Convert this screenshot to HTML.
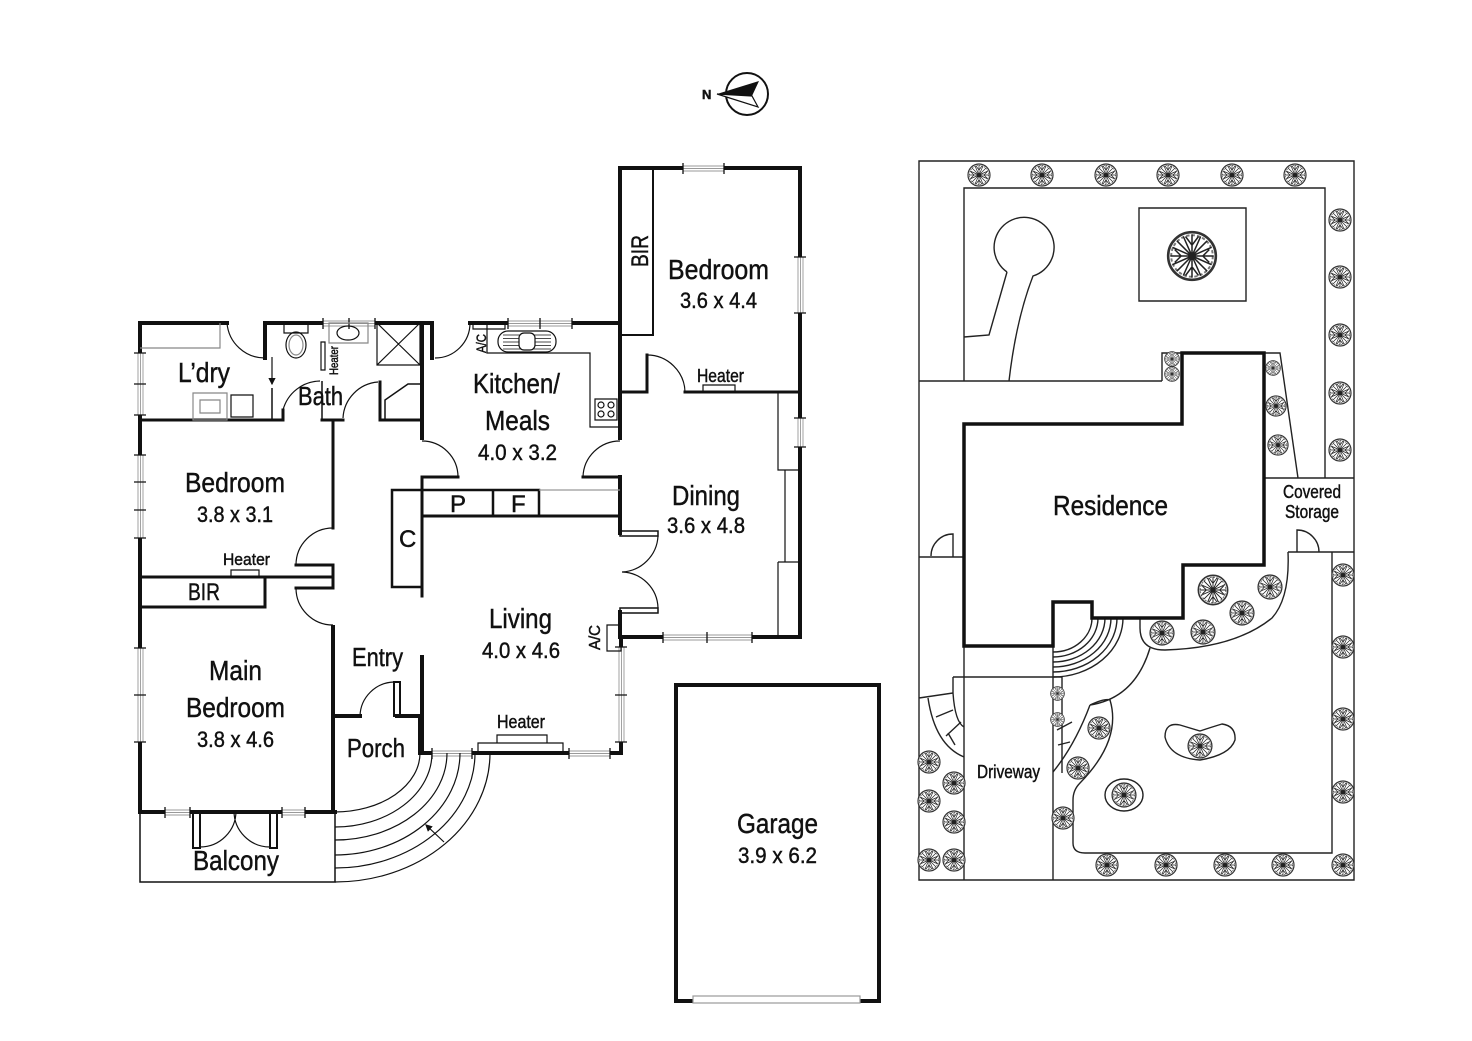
<!DOCTYPE html>
<html><head><meta charset="utf-8"><style>
html,body{margin:0;padding:0;background:#fff}
svg{display:block}
text{font-family:"Liberation Sans",Arial,sans-serif;fill:#111;stroke:#111;stroke-width:0.45}
</style></head><body>
<svg width="1472" height="1041" viewBox="0 0 1472 1041" xmlns="http://www.w3.org/2000/svg">
<defs>
<symbol id="t" viewBox="-12 -12 24 24">
<circle r="11" fill="#fff" stroke="#333" stroke-width="1.2"/>
<circle r="9.6" fill="none" stroke="#777" stroke-width="0.9" stroke-dasharray="1.5 1"/>
<path fill="none" stroke="#222" stroke-width="0.7" d="M0,0L0,-10M0,0L7,-7M0,0L10,0M0,0L7,7M0,0L0,10M0,0L-7,7M0,0L-10,0M0,0L-7,-7M0,0L4,-9M0,0L9,-4M0,0L9,4M0,0L4,9M0,0L-4,9M0,0L-9,4M0,0L-9,-4M0,0L-4,-9M0,-5L-3,-9M0,-5L3,-9M5,0L8,-3M5,0L8,3M0,5L-3,9M0,5L3,9M-5,0L-8,-3M-5,0L-8,3"/>
</symbol>
<marker id="ah" markerWidth="6" markerHeight="6" refX="5" refY="3" orient="auto"><path d="M0,0L6,3L0,6Z" fill="#111"/></marker>
</defs>
<rect width="1472" height="1041" fill="#fff"/>

<circle cx="747" cy="94" r="21" fill="#fff" stroke="#111" stroke-width="2"/>
<polygon points="717,94 759,81 752,96" fill="#111"/>
<polygon points="717,94 752,96 758,107" fill="#fff" stroke="#111" stroke-width="1.2"/>
<text x="702" y="99" font-size="13" font-weight="bold" stroke-width="0">N</text>

<g fill="none" stroke="#111" stroke-linecap="square">
<path stroke-width="4" d="M227,323L140,323L140,812L335,812M265,358L265,323L375,323M375,323L432,323L432,358M422,323L422,438M470,323L620,323M620,323L620,168L800,168L800,637L621,637L621,753L420,753L420,716M333,627L333,812M333,716L360,716M397,716L420,716M422,657L422,753M620,323L620,438M620,477L620,533M620,612L620,637"/>
<path stroke-width="3" d="M140,420L283,420M322,420L343,420M380,382L380,420L422,420M333,420L333,528M296,565L333,565L333,588L296,588M140,577L333,577M265,577L265,607L140,607M422,477L458,477M583,477L620,477M422,477L422,596M422,516L620,516M620,392L647,392L647,355M685,392L800,392M283,410L283,420"/>
<path stroke-width="2" d="M620,335L653,335L653,168"/>
</g>

<path fill="#fff" d="M323,320h52v7h-52zM508,320h64v7h-64zM683,165h41v7h-41zM663,634h89v7h-89zM569,750h41v7h-41zM432,750h40v7h-40zM165,809h25v7h-25zM282,809h23v7h-23zM137,353h7v62h-7zM137,455h7v83h-7zM137,648h7v94h-7zM797,257h7v56h-7zM797,418h7v29h-7zM618,647h7v95h-7z"/>
<path fill="none" stroke="#999" stroke-width="0.9" d="M323,321H375M323,323.5H375M323,326H375M508,321H572M508,323.5H572M508,326H572M683,166H724M683,168.5H724M683,171H724M663,635H752M663,637.5H752M663,640H752M569,751H610M569,753.5H610M569,756H610M432,751H472M432,753.5H472M432,756H472M165,810H190M165,812.5H190M165,815H190M282,810H305M282,812.5H305M282,815H305M138,353V415M140.5,353V415M143,353V415M138,455V538M140.5,455V538M143,455V538M138,648V742M140.5,648V742M143,648V742M798,257V313M800.5,257V313M803,257V313M798,418V447M800.5,418V447M803,418V447M619,647V742M621.5,647V742M624,647V742"/>
<path fill="none" stroke="#111" stroke-width="1.3" d="M323,318V329M349,318V329M375,318V329M508,318V329M540,318V329M572,318V329M683,163V174M724,163V174M663,632V643M707,632V643M752,632V643M569,748V759M610,748V759M432,748V759M472,748V759M165,807V818M190,807V818M282,807V818M305,807V818M134,353H146M134,384H146M134,415H146M134,455H146M134,482H146M134,510H146M134,538H146M134,648H146M134,695H146M134,742H146M794,257H806M794,313H806M794,418H806M794,447H806M615,647H627M615,695H627M615,742H627"/>

<g fill="none" stroke="#111" stroke-width="1.2">
<path stroke="#888" d="M140,348L220,348L220,323M193,393h34v27h-34zM200,400h20v13h-20zM329,323h39v20h-39z"/>
<path d="M231,395h22v22h-22zM227,323A38,38 0 0 0 265,358M284,323h24v10h-24zM321,342h4v28h-4zM377,323h43v42h-43zM377,323L420,365M420,323L377,365M283,410A39,39 0 0 1 320,381M343,418A38,38 0 0 1 378,382M435,358A35,35 0 0 0 470,323M473,323h32v6h-32zM487,323L487,353L590,353L590,427L620,427M595,399h22v21h-22zM422,441A36,36 0 0 1 458,477M620,441A37,37 0 0 0 583,477M647,355A38,38 0 0 1 685,392M703,385h32v7h-32zM778,392L778,470L800,470M785,470L785,562M778,562L800,562M778,562L778,637M658,536A38,38 0 0 1 622,572M658,608A37,37 0 0 0 622,572M607,625h14v26h-14zM478,743h85v10h-85zM497,735h50v8h-50zM333,528A37,37 0 0 0 296,565M296,588A37,37 0 0 0 333,625M231,570h28v7h-28zM360,716A35,35 0 0 1 394,682M200,847A36,36 0 0 0 236,811M270,847A36,36 0 0 1 234,811"/>
<path d="M272,357L272,384" marker-end="url(#ah)"/>
<path d="M444,842L426,825" marker-end="url(#ah)"/>
<path stroke-width="1.5" d="M272,388L272,420M322,381L322,420M385,420L385,400L408,384L422,384M620,531h38v5h-38zM620,608h38v5h-38zM140,812L140,882L335,882L335,812"/>
<path stroke-width="2" d="M394,682h6v34h-6zM193,812h7v36h-7zM270,812h7v36h-7z"/>
<path stroke-width="2.5" d="M392,490h30v97h-30zM422,490L493,490L493,516M493,490L539,490L539,516"/>
<path stroke="#999" d="M539,490L620,490"/>
<ellipse cx="296" cy="345" rx="10" ry="13"/>
<ellipse cx="296" cy="345" rx="7" ry="10" stroke="#888"/>
<ellipse cx="348" cy="333" rx="11" ry="7"/>
<rect x="498" y="331" width="58" height="21" rx="10"/>
<path stroke-width="0.8" d="M503,335H551M503,338.5H551M503,342H551M503,345.5H551M503,349H551"/>
<rect x="519" y="333" width="16" height="17" rx="5" fill="#fff"/>
<path d="M604,405a3,3 0 1 0 -6,0a3,3 0 1 0 6,0M614,405a3,3 0 1 0 -6,0a3,3 0 1 0 6,0M604,414a3,3 0 1 0 -6,0a3,3 0 1 0 6,0M614,414a3,3 0 1 0 -6,0a3,3 0 1 0 6,0"/>
<path d="M420,753A85,59 0 0 1 335,812M432,753A97,74 0 0 1 335,827M447,753A112,87 0 0 1 335,840M460,753A125,102 0 0 1 335,855M475,753A140,115 0 0 1 335,868M490,753A155,129 0 0 1 335,882"/>
</g>

<path d="M693,1001L676,1001L676,685L879,685L879,1001L860,1001" fill="none" stroke="#111" stroke-width="4"/>
<rect x="693" y="996" width="167" height="7" stroke="#999" stroke-width="1.2" fill="#fff"/>

<g fill="none" stroke="#222" stroke-width="1.4">
<path d="M919,161h435v719h-435zM964,381L964,188L1325,188L1325,478M919,381L1162,381M1162,381L1162,353L1182,353M1139,208h107v93h-107zM1007,272A30,30 0 1 1 1033,276Q1016,320 1009,381M1007,272L989,335L964,337M1264,353L1280,353L1298,478M1264,478L1354,478M1288,552L1354,552M1297,552L1297,530A22,22 0 0 1 1319,552M919,557L964,557M953,557L953,534A22,22 0 0 0 931,556M964,646L964,880M1053,646L1053,880M953,677L1062,677L1062,773M953,677L953,693L919,698M928,698Q935,745 964,757M953,693Q955,722 964,727M936,717L953,710M946,736L961,722M955,745L948,733"/>
<path d="M1092,618A39,34 0 0 1 1053,652M1098,618A45,39 0 0 1 1053,657M1105,618A52,44 0 0 1 1053,662M1111,618A58,49 0 0 1 1053,667M1117,618A64,54 0 0 1 1053,672M1123,618A70,59 0 0 1 1053,677"/>
<path d="M1140,618L1140,628Q1140,650 1165,650Q1235,648 1272,618Q1290,598 1288,552M1150,648Q1135,698 1090,705M1090,705Q1075,745 1053,772M1090,705Q1105,698 1110,700Q1122,740 1080,783Q1073,790 1073,800L1073,843Q1073,853 1085,853L1332,853L1332,552M1057,730L1072,722M1058,745L1070,742M1165,737Q1165,722 1180,725Q1190,728 1200,731Q1212,727 1222,724Q1236,726 1235,740Q1230,755 1200,760Q1170,758 1165,737Z"/>
<ellipse cx="1124" cy="795" rx="19" ry="16"/>
</g>
<polygon points="1182,353 1264,353 1264,565 1183,565 1183,618 1092,618 1092,602 1053,602 1053,646 964,646 964,424 1182,424" fill="none" stroke="#111" stroke-width="3.5"/>

<g>
<use href="#t" x="967" y="163" width="24" height="24"/><use href="#t" x="1030" y="163" width="24" height="24"/><use href="#t" x="1094" y="163" width="24" height="24"/><use href="#t" x="1156" y="163" width="24" height="24"/><use href="#t" x="1220" y="163" width="24" height="24"/><use href="#t" x="1283" y="163" width="24" height="24"/>
<use href="#t" x="1328" y="208" width="24" height="24"/><use href="#t" x="1328" y="265" width="24" height="24"/><use href="#t" x="1328" y="323" width="24" height="24"/><use href="#t" x="1328" y="381" width="24" height="24"/><use href="#t" x="1328" y="438" width="24" height="24"/>
<use href="#t" x="1166" y="230" width="52" height="52"/><use href="#t" x="1164" y="351" width="16" height="16"/><use href="#t" x="1164" y="366" width="16" height="16"/><use href="#t" x="1265" y="360" width="16" height="16"/><use href="#t" x="1265" y="395" width="22" height="22"/><use href="#t" x="1267" y="434" width="22" height="22"/>
<use href="#t" x="1197" y="574" width="32" height="32"/><use href="#t" x="1257" y="574" width="26" height="26"/><use href="#t" x="1229" y="600" width="26" height="26"/><use href="#t" x="1190" y="619" width="26" height="26"/><use href="#t" x="1149" y="620" width="26" height="26"/>
<use href="#t" x="1331" y="563" width="24" height="24"/><use href="#t" x="1331" y="635" width="24" height="24"/><use href="#t" x="1331" y="707" width="24" height="24"/><use href="#t" x="1331" y="780" width="24" height="24"/><use href="#t" x="1331" y="853" width="24" height="24"/>
<use href="#t" x="1095" y="853" width="24" height="24"/><use href="#t" x="1154" y="853" width="24" height="24"/><use href="#t" x="1213" y="853" width="24" height="24"/><use href="#t" x="1271" y="853" width="24" height="24"/>
<use href="#t" x="917" y="750" width="24" height="24"/><use href="#t" x="942" y="771" width="24" height="24"/><use href="#t" x="917" y="789" width="24" height="24"/><use href="#t" x="942" y="810" width="24" height="24"/><use href="#t" x="917" y="848" width="24" height="24"/><use href="#t" x="942" y="848" width="24" height="24"/>
<use href="#t" x="1050" y="686" width="15" height="15"/><use href="#t" x="1050" y="712" width="15" height="15"/><use href="#t" x="1087" y="716" width="24" height="24"/><use href="#t" x="1066" y="756" width="24" height="24"/><use href="#t" x="1051" y="806" width="24" height="24"/><use href="#t" x="1187" y="733" width="26" height="26"/><use href="#t" x="1111" y="782" width="26" height="26"/>
</g>

<g>
<text x="668" y="279" font-size="28" textLength="101" lengthAdjust="spacingAndGlyphs">Bedroom</text>
<text x="680" y="308" font-size="22" textLength="77" lengthAdjust="spacingAndGlyphs">3.6 x 4.4</text>
<text transform="translate(648,267) rotate(-90)" font-size="24" textLength="32" lengthAdjust="spacingAndGlyphs">BIR</text>
<text x="697" y="382" font-size="18" textLength="47" lengthAdjust="spacingAndGlyphs">Heater</text>
<text x="178" y="382" font-size="28" textLength="52" lengthAdjust="spacingAndGlyphs">L’dry</text>
<text x="298" y="405" font-size="26" textLength="45" lengthAdjust="spacingAndGlyphs">Bath</text>
<text x="473" y="393" font-size="28" textLength="87" lengthAdjust="spacingAndGlyphs">Kitchen/</text>
<text x="485" y="430" font-size="28" textLength="65" lengthAdjust="spacingAndGlyphs">Meals</text>
<text x="478" y="460" font-size="22" textLength="79" lengthAdjust="spacingAndGlyphs">4.0 x 3.2</text>
<text x="185" y="492" font-size="28" textLength="100" lengthAdjust="spacingAndGlyphs">Bedroom</text>
<text x="197" y="522" font-size="22" textLength="76" lengthAdjust="spacingAndGlyphs">3.8 x 3.1</text>
<text x="223" y="565" font-size="17" textLength="47" lengthAdjust="spacingAndGlyphs">Heater</text>
<text x="188" y="600" font-size="24" textLength="32" lengthAdjust="spacingAndGlyphs">BIR</text>
<text x="450" y="512" font-size="24">P</text>
<text x="511" y="512" font-size="24">F</text>
<text x="399" y="547" font-size="24">C</text>
<text transform="translate(486,353) rotate(-90)" font-size="14" textLength="19" lengthAdjust="spacingAndGlyphs" stroke-width="0.2">A/C</text>
<text transform="translate(338,375) rotate(-90)" font-size="12" textLength="29" lengthAdjust="spacingAndGlyphs" stroke-width="0.2">Heater</text>
<text x="209" y="680" font-size="28" textLength="53" lengthAdjust="spacingAndGlyphs">Main</text>
<text x="186" y="717" font-size="28" textLength="99" lengthAdjust="spacingAndGlyphs">Bedroom</text>
<text x="197" y="747" font-size="22" textLength="77" lengthAdjust="spacingAndGlyphs">3.8 x 4.6</text>
<text x="193" y="870" font-size="28" textLength="86" lengthAdjust="spacingAndGlyphs">Balcony</text>
<text x="347" y="757" font-size="26" textLength="58" lengthAdjust="spacingAndGlyphs">Porch</text>
<text x="352" y="666" font-size="26" textLength="51" lengthAdjust="spacingAndGlyphs">Entry</text>
<text x="489" y="628" font-size="28" textLength="63" lengthAdjust="spacingAndGlyphs">Living</text>
<text x="482" y="658" font-size="22" textLength="78" lengthAdjust="spacingAndGlyphs">4.0 x 4.6</text>
<text transform="translate(600,650) rotate(-90)" font-size="16" textLength="25" lengthAdjust="spacingAndGlyphs" stroke-width="0.3">A/C</text>
<text x="497" y="728" font-size="18" textLength="48" lengthAdjust="spacingAndGlyphs">Heater</text>
<text x="672" y="505" font-size="28" textLength="68" lengthAdjust="spacingAndGlyphs">Dining</text>
<text x="667" y="533" font-size="22" textLength="78" lengthAdjust="spacingAndGlyphs">3.6 x 4.8</text>
<text x="737" y="833" font-size="28" textLength="81" lengthAdjust="spacingAndGlyphs">Garage</text>
<text x="738" y="863" font-size="22" textLength="79" lengthAdjust="spacingAndGlyphs">3.9 x 6.2</text>
<text x="1053" y="515" font-size="28" textLength="115" lengthAdjust="spacingAndGlyphs">Residence</text>
<text x="1283" y="498" font-size="18" textLength="58" lengthAdjust="spacingAndGlyphs" stroke-width="0.3">Covered</text>
<text x="1285" y="518" font-size="18" textLength="54" lengthAdjust="spacingAndGlyphs" stroke-width="0.3">Storage</text>
<text x="977" y="778" font-size="18" textLength="63" lengthAdjust="spacingAndGlyphs" stroke-width="0.3">Driveway</text>
</g>
</svg>
</body></html>
